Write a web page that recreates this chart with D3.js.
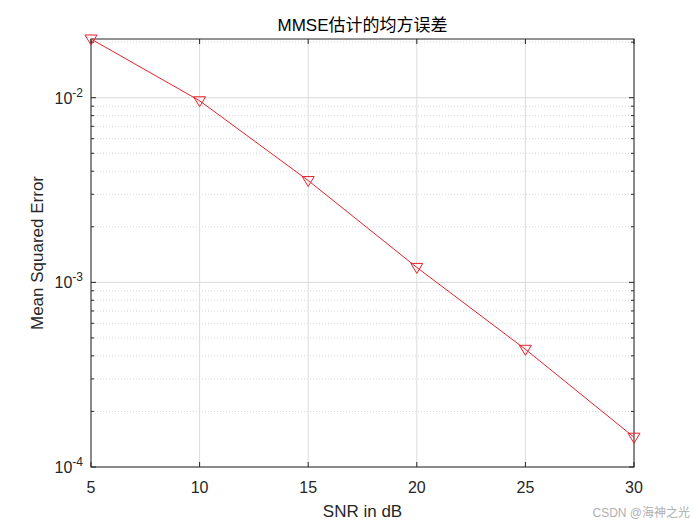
<!DOCTYPE html><html><head><meta charset="utf-8"><script src="https://cdn.jsdelivr.net/npm/d3@7"></script>
<style>body{margin:0;background:#fff}svg{font-family:Arial,"Liberation Sans","Noto Sans CJK SC",sans-serif}</style></head><body><svg id="c" width="700" height="525"></svg>
<script>
const snr=[5,10,15,20,25,30];
const mse=[0.0208,0.00963,0.00356,0.001205,0.000434,0.000145];
const xTicks=[5,10,15,20,25,30];
const yTicks=[1e-4,1e-3,1e-2];
const svg=d3.select("#c");
const L=91,R=634,T=39,B=467;
const x=d3.scaleLinear().domain([5,30]).range([L,R]);
const y=d3.scaleLog().domain([1e-4,0.0208]).range([B,T]);
svg.append("rect").attr("x",L).attr("y",T).attr("width",R-L).attr("height",B-T).attr("fill","#fff");
const g=svg.append("g");
const minors=[];for(let e=-4;e<=-2;e++)for(let m=2;m<=9;m++){const v=m*Math.pow(10,e);if(v<=0.0208)minors.push(v);}
g.selectAll(".mn").data(minors).join("line").attr("x1",L).attr("x2",R).attr("y1",d=>y(d)).attr("y2",d=>y(d)).attr("stroke","#d8d8d8").attr("stroke-dasharray","1,2");
g.selectAll(".gy").data(yTicks).join("line").attr("x1",L).attr("x2",R).attr("y1",d=>y(d)).attr("y2",d=>y(d)).attr("stroke","#dcdcdc");
g.selectAll(".gx").data(xTicks).join("line").attr("x1",d=>x(d)).attr("x2",d=>x(d)).attr("y1",T).attr("y2",B).attr("stroke","#dcdcdc");
const tk=svg.append("g").attr("stroke","#262626");
xTicks.forEach(t=>{tk.append("line").attr("x1",x(t)).attr("x2",x(t)).attr("y1",B).attr("y2",B-5);tk.append("line").attr("x1",x(t)).attr("x2",x(t)).attr("y1",T).attr("y2",T+5);});
yTicks.forEach(t=>{tk.append("line").attr("x1",L).attr("x2",L+5).attr("y1",y(t)).attr("y2",y(t));tk.append("line").attr("x1",R).attr("x2",R-5).attr("y1",y(t)).attr("y2",y(t));});
minors.forEach(t=>{tk.append("line").attr("x1",L).attr("x2",L+3).attr("y1",y(t)).attr("y2",y(t));tk.append("line").attr("x1",R).attr("x2",R-3).attr("y1",y(t)).attr("y2",y(t));});
svg.append("rect").attr("x",L).attr("y",T).attr("width",R-L).attr("height",B-T).attr("fill","none").attr("stroke","#262626");
svg.selectAll(".xl").data(xTicks).join("text").attr("x",d=>x(d)).attr("y",B+26).attr("text-anchor","middle").attr("font-size",16).attr("fill","#262626").text(d=>d);
yTicks.forEach(t=>{const tx=svg.append("text").attr("x",L-8).attr("y",y(t)+6).attr("text-anchor","end").attr("font-size",16).attr("fill","#262626");
tx.append("tspan").text("10");tx.append("tspan").attr("dy",-7).attr("font-size",12).text(Math.round(Math.log10(t)));});
svg.append("text").attr("x",(L+R)/2).attr("y",B+50).attr("text-anchor","middle").attr("font-size",17).attr("fill","#262626").text("SNR in dB");
svg.append("text").attr("transform",`translate(43,${(T+B)/2}) rotate(-90)`).attr("text-anchor","middle").attr("font-size",17).attr("fill","#262626").text("Mean Squared Error");
svg.append("text").attr("x",(L+R)/2).attr("y",31).attr("text-anchor","middle").attr("font-size",17).attr("fill","#000").text("MMSE估计的均方误差");
svg.append("path").datum(snr.map((s,i)=>[s,mse[i]])).attr("d",d3.line().x(d=>x(d[0])).y(d=>y(d[1]))).attr("fill","none").attr("stroke","#e8202a").attr("stroke-width",1);
svg.selectAll(".mk").data(snr).join("path").attr("transform",(d,i)=>`translate(${x(d)},${y(mse[i])})`).attr("d","M-6,-4L6,-4L0,6Z").attr("fill","none").attr("stroke","#e8202a");
svg.append("text").attr("x",690).attr("y",517).attr("text-anchor","end").attr("font-size",12).attr("fill","#b0b0b0").text("CSDN @海神之光");
</script></body></html>
